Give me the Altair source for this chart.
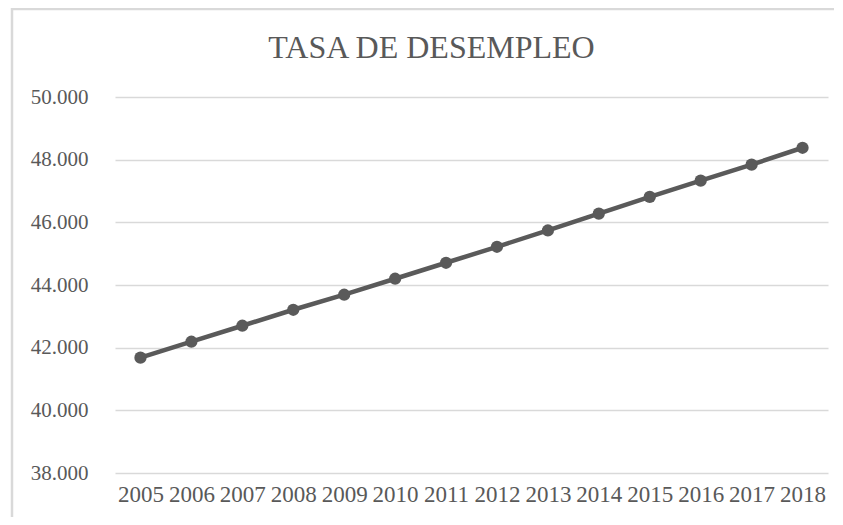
import altair as alt
import pandas as pd

years = ["2005", "2006", "2007", "2008", "2009", "2010", "2011",
         "2012", "2013", "2014", "2015", "2016", "2017", "2018"]
values = [41680, 42190, 42700, 43210, 43690, 44200, 44710,
          45220, 45740, 46280, 46810, 47330, 47840, 48380]
y_ticks = [38000, 40000, 42000, 44000, 46000, 48000, 50000]
title_text = "TASA DE DESEMPLEO"

df = pd.DataFrame({"year": years, "value": values})

FONT = "Liberation Serif"
GRAY = "#595959"

base = alt.Chart(df)

x_enc = alt.X("year:O", sort=years, title=None,
              scale=alt.Scale(type="point", padding=0.5),
              axis=alt.Axis(labelAngle=0, ticks=False, tickSize=0, domain=False,
                            labelPadding=10, labelFont=FONT, labelFontSize=23,
                            labelColor=GRAY, grid=False))
y_enc = alt.Y("value:Q", title=None,
              scale=alt.Scale(domain=[38000, 50000], nice=False, zero=False),
              axis=alt.Axis(values=y_ticks, ticks=False, tickSize=0, domain=False,
                            labelPadding=27, labelFont=FONT, labelFontSize=21,
                            labelColor=GRAY, grid=True, gridColor="#d9d9d9",
                            gridWidth=1.3,
                            labelExpr="replace(format(datum.value, ','), ',', '.')"))

line = base.mark_line(color="#5a5a5a", strokeWidth=4.5).encode(x=x_enc, y=y_enc)
pts = base.mark_point(filled=True, color="#5a5a5a", size=150, opacity=1).encode(
    x=alt.X("year:O", sort=years), y="value:Q")

frame_left = alt.Chart(pd.DataFrame({"k": [0]})).mark_rule(
    color="#d9d9d9", strokeWidth=2.5).encode(
    x=alt.value(-103), y=alt.value(-89), y2=alt.value(420))
frame_top = alt.Chart(pd.DataFrame({"k": [0]})).mark_rule(
    color="#d9d9d9", strokeWidth=2.5).encode(
    x=alt.value(-104), x2=alt.value(719), y=alt.value(-88))

chart = alt.layer(line, pts, frame_left, frame_top).properties(
    width=713, height=376,
    background="white",
    autosize=alt.AutoSizeParams(type="none"),
    padding={"left": 107, "top": 89, "right": 7, "bottom": 44},
    title=alt.TitleParams(title_text, font=FONT, fontSize=32, fontWeight="normal",
                          color=GRAY, anchor="middle", frame="group", dx=-40,
                          baseline="alphabetic", offset=-83),
).configure_view(strokeWidth=0)

chart.save("out.html", embed_options={"renderer": "svg", "actions": False})
